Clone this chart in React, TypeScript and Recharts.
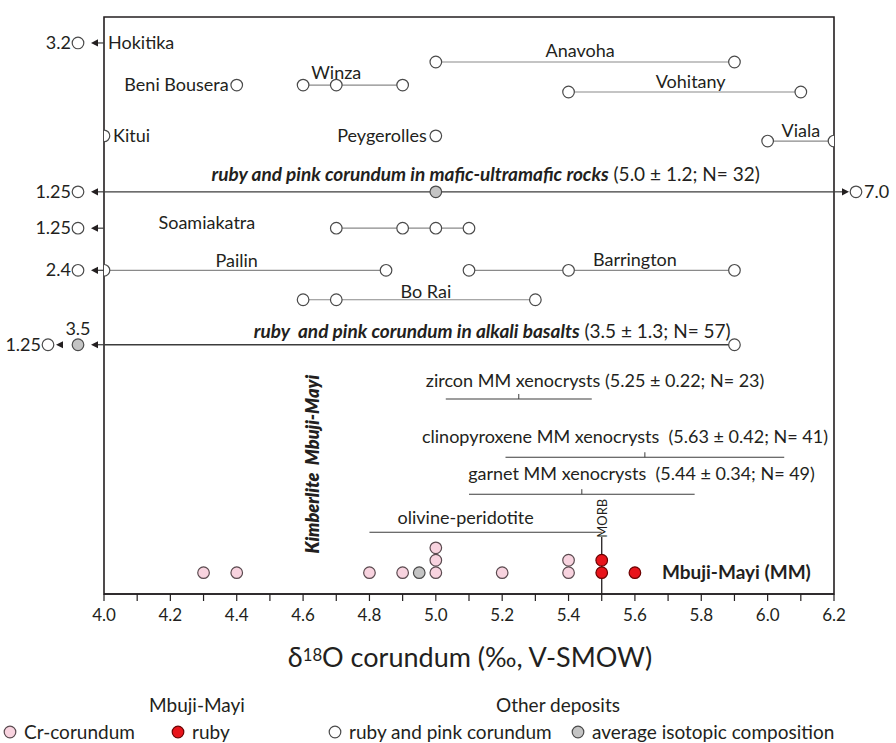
import React from 'react';
import {
  ScatterChart,
  XAxis,
  YAxis,
  Scatter,
  ReferenceLine,
  ReferenceDot,
  ReferenceArea,
} from 'recharts';

/* ------------------------------------------------------------------ */
/* Data                                                                */
/* ------------------------------------------------------------------ */

const X_MIN = 4.0;
const X_MAX = 6.2;
const xTicks = [4.0, 4.1, 4.2, 4.3, 4.4, 4.5, 4.6, 4.7, 4.8, 4.9, 5.0, 5.1, 5.2, 5.3, 5.4, 5.5, 5.6, 5.7, 5.8, 5.9, 6.0, 6.1, 6.2];

// Other deposits: delta18O values of ruby and pink corundum
const hokitika = [3.2];
const beniBousera = [4.4];
const winza = [4.6, 4.7, 4.9];
const anavoha = [5.0, 5.9];
const vohitany = [5.4, 6.1];
const kitui = [4.0];
const peygerolles = [5.0];
const viala = [6.0, 6.2];
const soamiakatra = [1.25, 4.7, 4.9, 5.0, 5.1];
const pailin = [2.4, 4.0, 4.85];
const barrington = [5.1, 5.4, 5.9];
const boRai = [4.6, 4.7, 5.3];

// min, average, max
const maficRocks = [1.25, 5.0, 7.0];
const maficStats = ['5.0', '1.2', '32'];
const alkaliBasalts = [1.25, 3.5, 5.9];
const alkaliStats = ['3.5', '1.3', '57'];

// Mbuji-Mayi mantle xenocrysts
const xenoNames = ['zircon', 'clinopyroxene', 'garnet'];
const xenoMeans = [5.25, 5.63, 5.44];
const xenoSds = [0.22, 0.42, 0.34];
const xenoN = [23, 41, 49];
const olivinePeridotite = [4.8, 5.5];
const morb = 5.5;

// Mbuji-Mayi corundum
const crCorundum = [4.3, 4.4, 4.8, 4.9, 5.0, 5.0, 5.0, 5.2, 5.4, 5.4];
const ruby = [5.5, 5.5, 5.6];
const mmAverage = [4.95];

// vertical order of the rows (0 = x axis, 100 = top of frame)
const levelHokitika = 95.5;
const levelAnavoha = 92.2;
const levelWinza = 88.2;
const levelVohitany = 87.0;
const levelKitui = 79.4;
const levelViala = 78.5;
const levelMafic = 69.7;
const levelSoamiakatra = 63.4;
const levelPailin = 56.1;
const levelBoRai = 51.0;
const levelAlkali = 43.2;
const xenoLevels = [33.8, 23.7, 17.3];
const levelOlivine = 10.7;
const levelMorbTop = 9.9;
const levelMM = 3.7;
const stackStep = 2.15;

/* ------------------------------------------------------------------ */
/* Styling                                                             */
/* ------------------------------------------------------------------ */

const FONT = 'Lato, "Open Sans", sans-serif';
const INK = '#231f20';
const GREY_LINE = '#8a8a8a';
const DARK_LINE = '#3c3c3c';
const CIRCLE_STROKE = '#4a4a4a';
const R = 5.8;
const SW = 1.2;

const fmt = (v: number) => (Number.isInteger(v) ? v.toFixed(1) : String(v));

const onScale = (values: number[], level: number) =>
  values.filter((v) => v >= X_MIN && v <= X_MAX).map((v) => ({ x: v, y: level }));

const stacked = (values: number[], base: number) => {
  const seen: Record<string, number> = {};
  return values.map((v) => {
    const k = String(v);
    const n = seen[k] || 0;
    seen[k] = n + 1;
    return { x: v, y: base + n * stackStep };
  });
};

const circle = (fill: string, stroke: string) => (p: any) => (
  <circle cx={p.cx} cy={p.cy} r={R} fill={fill} stroke={stroke} strokeWidth={SW} />
);

const whiteCircle = circle('#ffffff', CIRCLE_STROKE);
const greyCircle = circle('#c4c4c4', CIRCLE_STROKE);
const pinkCircle = circle('#f8d3df', '#5a4a4f');
const redCircle = circle('#e8141b', '#6b0000');

const arrowLeft = (tip: number, cy: number) => (
  <polygon points={`${tip},${cy} ${tip + 7},${cy - 3.6} ${tip + 7},${cy + 3.6}`} fill={INK} />
);
const arrowRight = (tip: number, cy: number) => (
  <polygon points={`${tip},${cy} ${tip - 7},${cy - 3.6} ${tip - 7},${cy + 3.6}`} fill={INK} />
);

const valueText = (x: number, y: number, s: string, anchor: 'start' | 'end' | 'middle') => (
  <text x={x} y={y} textAnchor={anchor} fontFamily={FONT} fontSize={18} fill={INK}>
    {s}
  </text>
);

// off-scale value to the left of the frame
const offLeft = (value: number) => (p: any) => {
  const { cx, cy } = p;
  return (
    <g>
      <line x1={cx - 6} y1={cy} x2={cx} y2={cy} stroke={DARK_LINE} strokeWidth={1.2} />
      {arrowLeft(cx - 13, cy)}
      <circle cx={cx - 26} cy={cy} r={R} fill="#fff" stroke={CIRCLE_STROKE} strokeWidth={SW} />
      {valueText(cx - 33, cy + 6, fmt(value), 'end')}
    </g>
  );
};

// alkali basalts: average and minimum both off-scale
const offLeftAlkali = (min: number, avg: number) => (p: any) => {
  const { cx, cy } = p;
  return (
    <g>
      <line x1={cx - 6} y1={cy} x2={cx} y2={cy} stroke={DARK_LINE} strokeWidth={1.2} />
      {arrowLeft(cx - 13, cy)}
      <circle cx={cx - 26} cy={cy} r={R} fill="#c4c4c4" stroke={CIRCLE_STROKE} strokeWidth={SW} />
      {valueText(cx - 26, cy - 10, fmt(avg), 'middle')}
      {arrowLeft(cx - 48, cy)}
      <circle cx={cx - 56} cy={cy} r={R} fill="#fff" stroke={CIRCLE_STROKE} strokeWidth={SW} />
      {valueText(cx - 63, cy + 6, fmt(min), 'end')}
    </g>
  );
};

// off-scale value to the right of the frame
const offRight = (value: number) => (p: any) => {
  const { cx, cy } = p;
  return (
    <g>
      <line x1={cx} y1={cy} x2={cx + 8} y2={cy} stroke={DARK_LINE} strokeWidth={1.2} />
      {arrowRight(cx + 15, cy)}
      <circle cx={cx + 22} cy={cy} r={R} fill="#fff" stroke={CIRCLE_STROKE} strokeWidth={SW} />
      {valueText(cx + 30, cy + 6, fmt(value), 'start')}
    </g>
  );
};

const meanTick = (p: any) => (
  <line x1={p.cx} y1={p.cy} x2={p.cx} y2={p.cy - 5} stroke={DARK_LINE} strokeWidth={1} />
);

type LabelOpts = {
  dx?: number;
  dy?: number;
  anchor?: 'start' | 'middle' | 'end';
  size?: number;
  weight?: number;
  italic?: boolean;
  rotate?: boolean;
};

const textShape = (content: React.ReactNode, o: LabelOpts) => (p: any) => {
  const x = p.cx + (o.dx || 0);
  const y = p.cy + (o.dy || 0);
  return (
    <text
      x={x}
      y={y}
      textAnchor={o.anchor || 'middle'}
      fontFamily={FONT}
      fontSize={o.size || 18}
      fontWeight={o.weight || 400}
      fontStyle={o.italic ? 'italic' : 'normal'}
      fill={INK}
      style={{ whiteSpace: 'pre' }}
      transform={o.rotate ? `rotate(-90 ${x} ${y})` : undefined}
    >
      {content}
    </text>
  );
};

const lineProps = { stroke: GREY_LINE, strokeWidth: 1.2 };

/* ------------------------------------------------------------------ */
/* Chart                                                               */
/* ------------------------------------------------------------------ */

export default function App() {
  const tickFormatter = (v: number) => (Math.round(v * 10) % 2 === 0 ? v.toFixed(1) : '');

  return (
    <div style={{ position: 'absolute', left: 0, top: 0, width: 896, height: 743, background: '#fff' }}>
      <ScatterChart width={896} height={743} margin={{ top: 17, right: 62, bottom: 119, left: 104 }}>
        <XAxis
          type="number"
          dataKey="x"
          domain={[X_MIN, X_MAX]}
          ticks={xTicks}
          interval={0}
          allowDataOverflow
          tickFormatter={tickFormatter}
          tickSize={7}
          tickMargin={8}
          height={30}
          axisLine={{ stroke: INK, strokeWidth: 1.6 }}
          tickLine={{ stroke: INK, strokeWidth: 1.2 }}
          tick={{ fill: INK, fontSize: 17, fontFamily: FONT }}
        />
        <YAxis type="number" dataKey="y" domain={[0, 100]} hide width={0} />

        {/* frame */}
        <ReferenceArea x1={X_MIN} x2={X_MAX} y1={0} y2={100} fill="none" fillOpacity={0} stroke={INK} strokeWidth={1.6} />

        {/* long ranges */}
        <ReferenceLine
          segment={[{ x: X_MIN, y: levelMafic }, { x: X_MAX, y: levelMafic }]}
          stroke={DARK_LINE}
          strokeWidth={1.3}
        />
        <ReferenceLine
          segment={[{ x: X_MIN, y: levelAlkali }, { x: alkaliBasalts[2], y: levelAlkali }]}
          stroke={DARK_LINE}
          strokeWidth={1.3}
        />

        {/* xenocryst ranges (mean ± 1 sd) */}
        {xenoNames.map((n, i) => (
          <ReferenceLine
            key={`xl-${n}`}
            segment={[
              { x: xenoMeans[i] - xenoSds[i], y: xenoLevels[i] },
              { x: xenoMeans[i] + xenoSds[i], y: xenoLevels[i] },
            ]}
            stroke={DARK_LINE}
            strokeWidth={1.1}
          />
        ))}
        {xenoNames.map((n, i) => (
          <ReferenceDot key={`xm-${n}`} x={xenoMeans[i]} y={xenoLevels[i]} r={0} shape={meanTick} />
        ))}
        <ReferenceLine
          segment={[{ x: olivinePeridotite[0], y: levelOlivine }, { x: olivinePeridotite[1], y: levelOlivine }]}
          stroke={DARK_LINE}
          strokeWidth={1.1}
        />
        <ReferenceLine segment={[{ x: morb, y: 0 }, { x: morb, y: levelMorbTop }]} stroke={INK} strokeWidth={1.3} />

        {/* off-scale values */}
        <ReferenceDot x={X_MIN} y={levelHokitika} r={0} shape={offLeft(hokitika[0])} />
        <ReferenceDot x={X_MIN} y={levelMafic} r={0} shape={offLeft(maficRocks[0])} />
        <ReferenceDot x={X_MAX} y={levelMafic} r={0} shape={offRight(maficRocks[2])} />
        <ReferenceDot x={X_MIN} y={levelSoamiakatra} r={0} shape={offLeft(soamiakatra[0])} />
        <ReferenceDot x={X_MIN} y={levelPailin} r={0} shape={offLeft(pailin[0])} />
        <ReferenceDot x={X_MIN} y={levelAlkali} r={0} shape={offLeftAlkali(alkaliBasalts[0], alkaliBasalts[1])} />

        {/* deposits */}
        <Scatter name="Beni Bousera" data={onScale(beniBousera, levelWinza)} shape={whiteCircle} isAnimationActive={false} />
        <Scatter name="Winza" data={onScale(winza, levelWinza)} line={lineProps} shape={whiteCircle} isAnimationActive={false} />
        <Scatter name="Anavoha" data={onScale(anavoha, levelAnavoha)} line={lineProps} shape={whiteCircle} isAnimationActive={false} />
        <Scatter name="Vohitany" data={onScale(vohitany, levelVohitany)} line={lineProps} shape={whiteCircle} isAnimationActive={false} />
        <Scatter name="Kitui" data={onScale(kitui, levelKitui)} shape={whiteCircle} isAnimationActive={false} />
        <Scatter name="Peygerolles" data={onScale(peygerolles, levelKitui)} shape={whiteCircle} isAnimationActive={false} />
        <Scatter name="Viala" data={onScale(viala, levelViala)} line={lineProps} shape={whiteCircle} isAnimationActive={false} />
        <Scatter name="Mafic average" data={onScale([maficRocks[1]], levelMafic)} shape={greyCircle} isAnimationActive={false} />
        <Scatter name="Soamiakatra" data={onScale(soamiakatra, levelSoamiakatra)} line={lineProps} shape={whiteCircle} isAnimationActive={false} />
        <Scatter name="Pailin" data={onScale(pailin, levelPailin)} line={lineProps} shape={whiteCircle} isAnimationActive={false} />
        <Scatter name="Barrington" data={onScale(barrington, levelPailin)} line={lineProps} shape={whiteCircle} isAnimationActive={false} />
        <Scatter name="Bo Rai" data={onScale(boRai, levelBoRai)} line={lineProps} shape={whiteCircle} isAnimationActive={false} />
        <Scatter name="Alkali max" data={onScale([alkaliBasalts[2]], levelAlkali)} shape={whiteCircle} isAnimationActive={false} />

        {/* Mbuji-Mayi */}
        <Scatter name="Cr-corundum" data={stacked(crCorundum, levelMM)} shape={pinkCircle} isAnimationActive={false} />
        <Scatter name="MM average" data={stacked(mmAverage, levelMM)} shape={greyCircle} isAnimationActive={false} />
        <Scatter name="ruby" data={stacked(ruby, levelMM)} shape={redCircle} isAnimationActive={false} />

        {/* labels */}
        <ReferenceDot x={X_MIN} y={levelHokitika} r={0} shape={textShape('Hokitika', { dx: 4, dy: 6, anchor: 'start' })} />
        <ReferenceDot x={beniBousera[0]} y={levelWinza} r={0} shape={textShape('Beni Bousera', { dx: -8, dy: 6, anchor: 'end' })} />
        <ReferenceDot x={winza[1]} y={levelWinza} r={0} shape={textShape('Winza', { dy: -6 })} />
        <ReferenceDot x={5.45} y={levelAnavoha} r={0} shape={textShape('Anavoha', { dx: -5, dy: -5 })} />
        <ReferenceDot x={5.75} y={levelVohitany} r={0} shape={textShape('Vohitany', { dx: 6, dy: -4 })} />
        <ReferenceDot x={kitui[0]} y={levelKitui} r={0} shape={textShape('Kitui', { dx: 9, dy: 6, anchor: 'start' })} />
        <ReferenceDot x={peygerolles[0]} y={levelKitui} r={0} shape={textShape('Peygerolles', { dx: -9, dy: 6, anchor: 'end' })} />
        <ReferenceDot x={6.1} y={levelViala} r={0} shape={textShape('Viala', { dy: -4 })} />
        <ReferenceDot
          x={5.15}
          y={levelMafic}
          r={0}
          shape={textShape(
            <>
              <tspan fontWeight={700} fontStyle="italic">ruby and pink corundum in mafic-ultramafic rocks</tspan>
              <tspan>{` (${maficStats[0]} ± ${maficStats[1]}; N= ${maficStats[2]})`}</tspan>
            </>,
            { dy: -11, size: 19 },
          )}
        />
        <ReferenceDot x={4.31} y={levelSoamiakatra} r={0} shape={textShape('Soamiakatra', { dy: 1 })} />
        <ReferenceDot x={4.4} y={levelPailin} r={0} shape={textShape('Pailin', { dy: -3 })} />
        <ReferenceDot x={5.6} y={levelPailin} r={0} shape={textShape('Barrington', { dy: -4 })} />
        <ReferenceDot x={4.97} y={levelBoRai} r={0} shape={textShape('Bo Rai', { dy: -2 })} />
        <ReferenceDot
          x={5.17}
          y={levelAlkali}
          r={0}
          shape={textShape(
            <>
              <tspan fontWeight={700} fontStyle="italic">ruby  and pink corundum in alkali basalts</tspan>
              <tspan>{` (${alkaliStats[0]} ± ${alkaliStats[1]}; N= ${alkaliStats[2]})`}</tspan>
            </>,
            { dy: -7, size: 19 },
          )}
        />
        <ReferenceDot
          x={5.48}
          y={xenoLevels[0]}
          r={0}
          shape={textShape(`${xenoNames[0]} MM xenocrysts (${xenoMeans[0].toFixed(2)} ± ${xenoSds[0].toFixed(2)}; N= ${xenoN[0]})`, { dy: -12, size: 18 })}
        />
        <ReferenceDot
          x={5.57}
          y={xenoLevels[1]}
          r={0}
          shape={textShape(`${xenoNames[1]} MM xenocrysts  (${xenoMeans[1].toFixed(2)} ± ${xenoSds[1].toFixed(2)}; N= ${xenoN[1]})`, { dy: -14, size: 18 })}
        />
        <ReferenceDot
          x={5.62}
          y={xenoLevels[2]}
          r={0}
          shape={textShape(`${xenoNames[2]} MM xenocrysts  (${xenoMeans[2].toFixed(2)} ± ${xenoSds[2].toFixed(2)}; N= ${xenoN[2]})`, { dy: -14, size: 18 })}
        />
        <ReferenceDot x={5.09} y={levelOlivine} r={0} shape={textShape('olivine-peridotite', { dy: -8, size: 18 })} />
        <ReferenceDot x={morb} y={levelOlivine} r={0} shape={textShape('MORB', { dx: 5, dy: -14, size: 13, rotate: true })} />
        <ReferenceDot x={4.63} y={22.5} r={0} shape={textShape('Kimberlite  Mbuji-Mayi', { dx: 6, size: 18, weight: 800, italic: true, rotate: true })} />
        <ReferenceDot x={ruby[2]} y={levelMM} r={0} shape={textShape('Mbuji-Mayi (MM)', { dx: 27, dy: 6, size: 19, weight: 700, anchor: 'start' })} />
      </ScatterChart>

      {/* axis title */}
      <div
        style={{
          position: 'absolute',
          left: 170,
          width: 600,
          top: 640,
          textAlign: 'center',
          fontFamily: FONT,
          fontSize: 27,
          lineHeight: '34px',
          color: INK,
        }}
      >
        δ<sup style={{ fontSize: '0.62em', verticalAlign: 'top', position: 'relative', top: -2 }}>18</sup>O corundum (‰, V-SMOW)
      </div>

      {/* legend */}
      <div style={{ position: 'absolute', left: 0, top: 0, fontFamily: FONT, fontSize: 19, color: INK }}>
        <div style={{ position: 'absolute', left: 97, width: 200, top: 693, textAlign: 'center', whiteSpace: 'nowrap' }}>Mbuji-Mayi</div>
        <div style={{ position: 'absolute', left: 458, width: 200, top: 693, textAlign: 'center', whiteSpace: 'nowrap' }}>Other deposits</div>
        {[
          { fill: '#f8d3df', stroke: '#5a4a4f', x: 10, label: 'Cr-corundum' },
          { fill: '#e8141b', stroke: '#6b0000', x: 178, label: 'ruby' },
          { fill: '#ffffff', stroke: CIRCLE_STROKE, x: 335, label: 'ruby and pink corundum' },
          { fill: '#c4c4c4', stroke: CIRCLE_STROKE, x: 578, label: 'average isotopic composition' },
        ].map((it) => (
          <div key={it.label} style={{ position: 'absolute', left: it.x - 7, top: 720, whiteSpace: 'nowrap', display: 'flex', alignItems: 'center' }}>
            <svg width={14} height={14} style={{ display: 'block' }}>
              <circle cx={7} cy={7} r={5.8} fill={it.fill} stroke={it.stroke} strokeWidth={1.2} />
            </svg>
            <span style={{ marginLeft: 7, lineHeight: '24px' }}>{it.label}</span>
          </div>
        ))}
      </div>
    </div>
  );
}
